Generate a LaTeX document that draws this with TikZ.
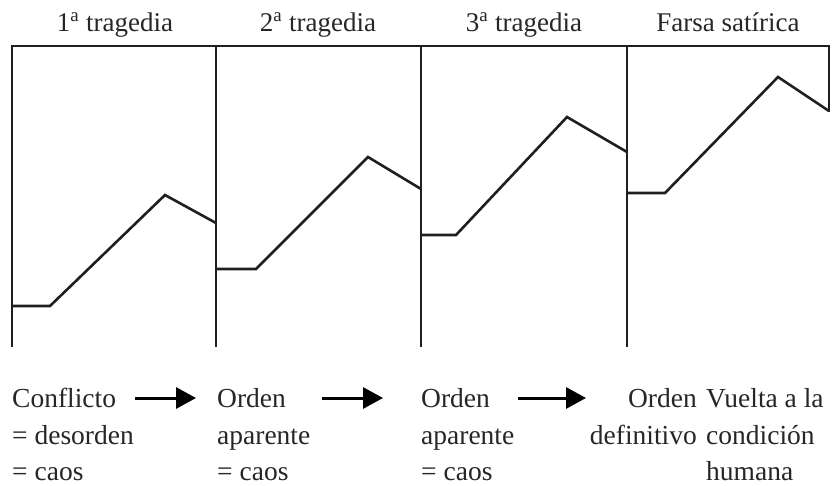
\documentclass[tikz,border=0pt]{standalone}
\usepackage{fontspec}
\setmainfont{Liberation Serif}
\usetikzlibrary{arrows.meta}
\begin{document}
\begin{tikzpicture}[x=1pt,y=-1pt,
  frame/.style={line width=2.6pt,line cap=rect,color=black!88},
  plot/.style={line width=2.6pt,line join=miter,color=black!88},
  lbl/.style={inner sep=0pt,anchor=base,font=\fontsize{27}{32}\selectfont,color=black!85},
  txt/.style={inner sep=0pt,anchor=base west,font=\fontsize{27.5}{32}\selectfont,color=black!85},
  txtr/.style={inner sep=0pt,anchor=base east,font=\fontsize{27.5}{32}\selectfont,color=black!85},
  arr/.style={line width=3pt,-{Triangle[length=20pt,width=21pt]},color=black}]
\useasboundingbox (0,0) rectangle (832,485);
% frame
\coordinate (tl) at (12,46);
\coordinate (tr) at (829,46);
\draw[frame] (12,346) -- (tl) -- (tr) -- (829,111);
\draw[frame] (216,46) -- (216,346);
\draw[frame] (421,46) -- (421,346);
\draw[frame] (627,46) -- (627,346);
% plots
\draw[plot] (12,306) -- (50,306) -- (165,195) -- (216,223);
\draw[plot] (216,269) -- (256,269) -- (368,157) -- (421,189);
\draw[plot] (421,235) -- (456,235) -- (567,117) -- (627,152);
\draw[plot] (627,193) -- (665,193) -- (778,77) -- (829,111);
% top labels
\node[lbl] (t1) at (115,31) {1\textsuperscript{a} tragedia};
\node[lbl] (t2) at (318,31) {2\textsuperscript{a} tragedia};
\node[lbl] (t3) at (524,31) {3\textsuperscript{a} tragedia};
\node[lbl] (t4) at (728,31) {Farsa satírica};
% bottom texts
\node[txt] (a1) at (12,407) {Conflicto};
\node[txt] (a2) at (12,444) {= desorden};
\node[txt] (a3) at (12,480) {= caos};
\node[txt] (b1) at (217,407) {Orden};
\node[txt] (b2) at (217,444) {aparente};
\node[txt] (b3) at (217,480) {= caos};
\node[txt] (c1) at (421,407) {Orden};
\node[txt] (c2) at (421,444) {aparente};
\node[txt] (c3) at (421,480) {= caos};
\node[txtr] (d1) at (697,407) {Orden};
\node[txtr] (d2) at (697,444) {definitivo};
\node[txt] (e1) at (706,407) {Vuelta a la};
\node[txt] (e2) at (706,444) {condición};
\node[txt] (e3) at (706,480) {humana};
% arrows
\coordinate (s1) at (135,398); \coordinate (f1) at (196,398);
\coordinate (s2) at (322,398); \coordinate (f2) at (383,398);
\coordinate (s3) at (518,398); \coordinate (f3) at (586,398);
\draw[arr] (s1) -- (f1);
\draw[arr] (s2) -- (f2);
\draw[arr] (s3) -- (f3);
\end{tikzpicture}
\end{document}
